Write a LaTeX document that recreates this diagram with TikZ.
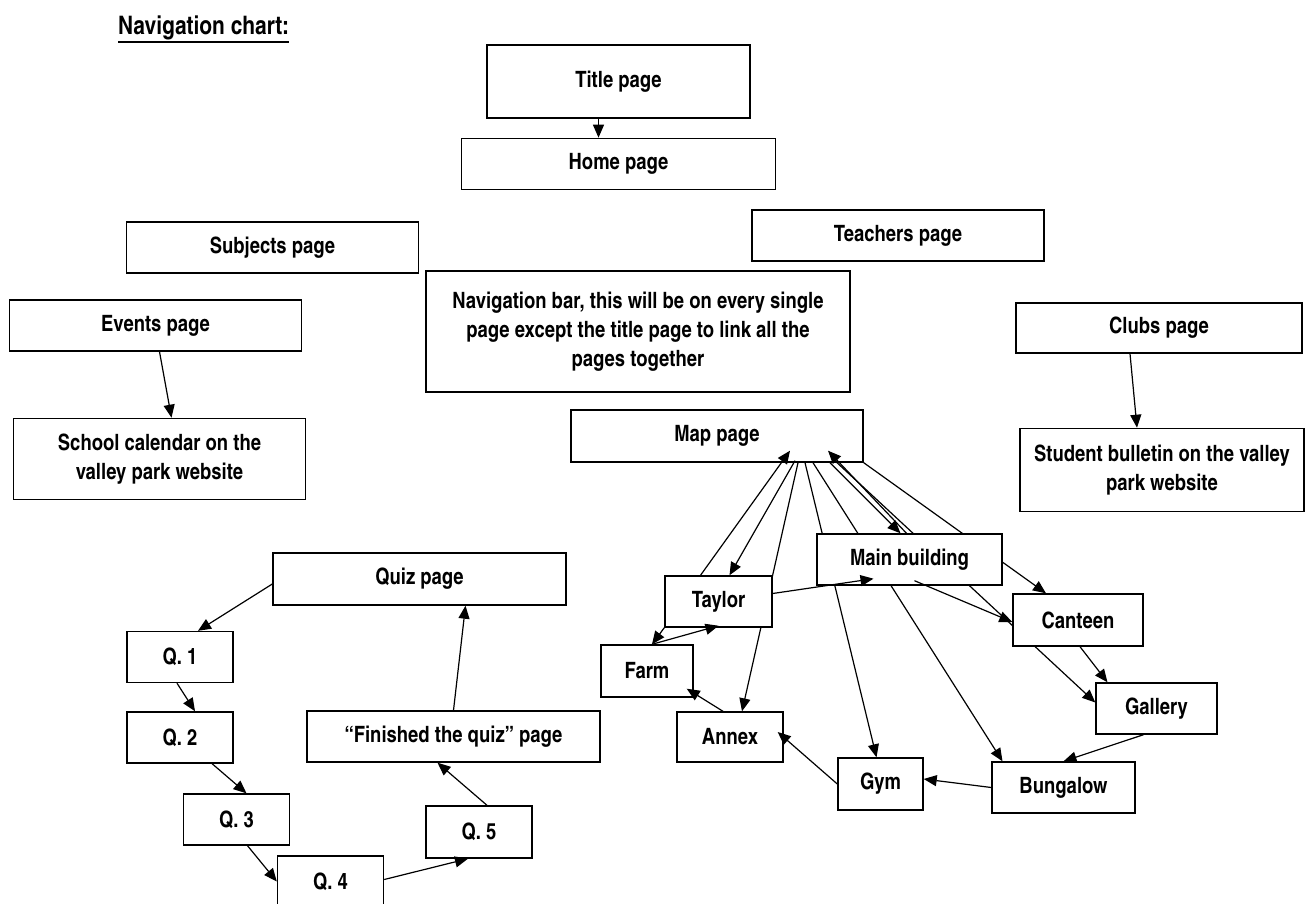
\documentclass[tikz,border=0pt]{standalone}
\usepackage{fontspec}
\setmainfont{TeX Gyre Heros Cn}
\usepackage{tikz}
\usetikzlibrary{arrows.meta}
\usetikzlibrary{backgrounds}
\usetikzlibrary{positioning}
\tikzset{
    arrow/.style={-{Triangle[length=13pt,width=11pt]}, line width=1.2pt},
    box/.style = {
      draw,
      line width=1.4pt,
      fill=white,
      rectangle,
      align=center,
      minimum height=51pt,
      inner sep=2pt,
      font=\fontsize{22.5}{29}\selectfont\bfseries
    },
    widebox/.style = {box, minimum width=292pt},
    qbox/.style = {box, minimum width=106pt},
}
\begin{document}
\begin{tikzpicture}[x=1pt, y=-1pt, node distance=20pt]
      \useasboundingbox (0,0) rectangle (1306,904);

      \node [anchor=south west, inner sep=0pt,
             font=\fontsize{25.5}{30}\selectfont\bfseries] (heading) at (118,40)
            {Navigation chart:};
      \draw [line width=1.5pt] ([yshift=-2pt]heading.south west)
            -- ([yshift=-2pt]heading.south east);

      % pages
      \node [box, minimum width=263pt, minimum height=73pt] (title) at (618.5,81.5) {Title page};
      \node [box, minimum width=314pt, below=19pt of title] (home) {Home page};
      \node [widebox] (subjects) at (272.5,247.5) {Subjects page};
      \node [widebox] (teachers) at (898,235.5) {Teachers page};
      \node [box, minimum width=424pt, minimum height=121pt] (navbar) at (638,331.5)
            {Navigation bar, this will be on every single\\page except the title page to link all the\\pages together};
      \node [widebox] (events) at (155.5,325.5) {Events page};
      \node [widebox, minimum height=81pt, below=66pt of events, xshift=4pt] (calendar)
            {School calendar on the\\valley park website};
      \node [box, minimum width=286pt, minimum height=50pt] (clubs) at (1159,328) {Clubs page};
      \node [box, minimum width=284pt, minimum height=83pt, below=74pt of clubs, xshift=3pt] (bulletin)
            {Student bulletin on the valley\\park website};

      % quiz
      \node [widebox, minimum width=293pt, minimum height=52pt] (quiz) at (419.5,579) {Quiz page};
      \node [qbox] (q1) at (180,657) {Q. 1};
      \node [qbox, below=28pt of q1] (q2) {Q. 2};
      \node [qbox] (q3) at (236.5,819.5) {Q. 3};
      \node [qbox] (q4) at (330.5,881.5) {Q. 4};
      \node [qbox, minimum height=52pt] (q5) at (479,832) {Q. 5};
      \node [widebox, minimum width=293pt] (finished) at (453.5,736.5) {“Finished the quiz” page};

      % map
      \node [widebox, minimum height=52pt] (map) at (717,436) {Map page};
      \node [box, minimum width=107pt] (taylor) at (718.5,601.5) {Taylor};
      \node [box, minimum width=185pt] (mainbld) at (909.5,559.5) {Main building};
      \node [box, minimum width=130pt, minimum height=52pt] (canteen) at (1078,620) {Canteen};
      \node [box, minimum width=92pt, minimum height=52pt] (farm) at (647,671) {Farm};
      \node [box, minimum width=106pt, minimum height=50pt] (annex) at (730,737) {Annex};
      \node [box, minimum width=121pt] (gallery) at (1156.5,708.5) {Gallery};
      \node [box, minimum width=85pt, minimum height=52pt] (gym) at (880.5,784) {Gym};
      \node [box, minimum width=143pt] (bungalow) at (1063.5,787.5) {Bungalow};

      \draw [arrow] ([xshift=-20pt]title.south) -- ([xshift=-20pt]home.north);
      \draw [arrow] ([xshift=4pt]events.south) -- ([xshift=12pt]calendar.north);
      \draw [arrow] ([xshift=-29pt]clubs.south) -- ([xshift=-25pt]bulletin.north);

      \draw [arrow] ([yshift=-5pt]quiz.west) -- ([xshift=18pt]q1.north);
      \draw [arrow] ([xshift=-3pt]q1.south) -- ([xshift=15pt]q2.north);
      \draw [arrow] ([xshift=32pt]q2.south) -- ([xshift=10pt]q3.north);
      \draw [arrow] ([xshift=11pt]q3.south) -- (q4.west);
      \draw [arrow] ([yshift=2pt]q4.east) -- ([xshift=-11pt]q5.south);
      \draw [arrow] ([xshift=8pt]q5.north) -- ([xshift=-16pt]finished.south);
      \draw [arrow] (finished.north) -- ([xshift=46pt]quiz.south);

      \draw [arrow] ([xshift=-18pt]taylor.north) -- ([xshift=73pt,yshift=12pt]map.south);
      \draw [arrow] ([xshift=78pt,yshift=2pt]map.south) -- ([xshift=11pt]taylor.north);
      \draw [arrow] ([xshift=113pt]map.south) -- ([xshift=-9pt]mainbld.north);
      \draw [arrow] ([xshift=-3pt]mainbld.north) -- ([xshift=111pt,yshift=12pt]map.south);
      \draw [arrow] ([xshift=5pt,yshift=5pt]mainbld.south) -- ([yshift=-2pt]canteen.west);
      \draw [arrow] ([xshift=2pt]canteen.south) -- ([xshift=-49pt]gallery.north);
      \draw [arrow] ([xshift=-13pt]gallery.south) -- (bungalow.north);
      \draw [arrow] (bungalow.west) -- ([yshift=5pt]gym.east);
      \draw [arrow] (gym.west) -- ([xshift=-6pt,yshift=5pt]annex.east);
      \draw [arrow] ([xshift=-7pt]annex.north) -- ([xshift=-7pt,yshift=9pt]farm.south east);
      \draw [arrow] (taylor.south west) -- ([xshift=5pt]farm.north);
      \draw [arrow] ([xshift=5pt]farm.north) -- ([yshift=2pt]taylor.south);
      \draw [arrow] ([yshift=8pt]taylor.east) -- ([xshift=-36pt,yshift=7pt]mainbld.south);

      % these run behind the boxes
      \begin{pgfonlayer}{background}
        \draw [arrow] ([xshift=81pt]map.south) -- ([xshift=12pt]annex.north);
        \draw [arrow] ([xshift=88pt]map.south) -- ([xshift=-4pt]gym.north);
        \draw [arrow] ([xshift=96pt]map.south) -- ([xshift=-61pt]bungalow.north);
        \draw [arrow] ([xshift=120pt]map.south) -- ([yshift=6pt]gallery.west);
        \draw [arrow] (map.south east) -- ([xshift=-32pt]canteen.north);
      \end{pgfonlayer}
\end{tikzpicture}
\end{document}
